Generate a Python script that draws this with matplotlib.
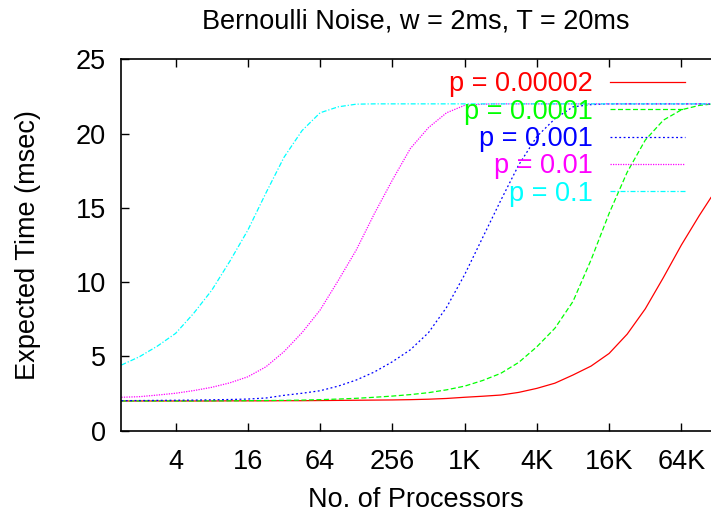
import matplotlib
matplotlib.use("Agg")
import matplotlib.pyplot as plt
from matplotlib.ticker import FixedLocator, FixedFormatter, NullLocator

plt.rcParams['font.family'] = ['Liberation Sans', 'DejaVu Sans']

# x positions as exponents of 2 (number of processors = 2**k)
k_vals = [0.5, 1, 1.5, 2, 2.5, 3, 3.5, 4, 4.5, 5, 5.5, 6, 6.5, 7, 7.5, 8, 8.5, 9, 9.5,
          10, 10.5, 11, 11.5, 12, 12.5, 13, 13.5, 14, 14.5, 15, 15.5, 16, 16.5, 16.82]
processors = [2 ** k for k in k_vals]

p_00002 = [2.0, 2.0, 2.0, 2.0, 2.0, 2.0, 2.01, 2.01, 2.01, 2.02, 2.02, 2.03, 2.04, 2.05, 2.06, 2.07, 2.09,
           2.12, 2.17, 2.25, 2.32, 2.4, 2.58, 2.85, 3.2, 3.75, 4.35, 5.2, 6.5, 8.2, 10.3, 12.5, 14.5, 15.7]
p_0001 = [2.0, 2.0, 2.0, 2.0, 2.0, 2.01, 2.01, 2.02, 2.03, 2.04, 2.06, 2.09, 2.13, 2.18, 2.25, 2.33, 2.43,
          2.56, 2.75, 3.0, 3.38, 3.86, 4.6, 5.65, 6.9, 8.7, 11.5, 14.63, 17.4, 19.56, 20.9, 21.6, 21.9, 21.98]
p_001 = [2.02, 2.03, 2.04, 2.05, 2.06, 2.08, 2.1, 2.13, 2.2, 2.38, 2.52, 2.69, 3.0, 3.41, 3.95, 4.64, 5.45,
         6.6, 8.3, 10.5, 13.0, 15.5, 17.9, 19.8, 21.0, 21.8, 21.95, 22.0, 22.0, 22.0, 22.0, 22.0, 22.0, 22.0]
p_01 = [2.25, 2.29, 2.4, 2.52, 2.7, 2.92, 3.22, 3.63, 4.3, 5.32, 6.6, 8.12, 10.1, 12.16, 14.6, 16.87, 19.0,
        20.4, 21.4, 21.9, 21.98, 22.0, 22.0, 22.0, 22.0, 22.0, 22.0, 22.0, 22.0, 22.0, 22.0, 22.0, 22.0, 22.0]
p_1 = [4.42, 4.98, 5.7, 6.55, 7.9, 9.45, 11.4, 13.5, 16.0, 18.4, 20.2, 21.4, 21.8, 21.98, 22.0, 22.0, 22.0,
       22.0, 22.0, 22.0, 22.0, 22.0, 22.0, 22.0, 22.0, 22.0, 22.0, 22.0, 22.0, 22.0, 22.0, 22.0, 22.0, 22.0]

series = [
    ("p = 0.00002", p_00002, "#ff0000", "-"),
    ("p = 0.0001", p_0001, "#00ff00", (0, (4, 2))),
    ("p = 0.001", p_001, "#0000ff", (0, (1.5, 2))),
    ("p = 0.01", p_01, "#ff00ff", (0, (1, 1))),
    ("p = 0.1", p_1, "#00ffff", (0, (4, 1.5, 1, 1.5))),
]

xtick_vals = [4, 16, 64, 256, 1024, 4096, 16384, 65536]
xtick_labels = ["4", "16", "64", "256", "1K", "4K", "16K", "64K"]
yticks = [0, 5, 10, 15, 20, 25]

FS = 19.5
fig = plt.figure(figsize=(7.11, 5.16), dpi=100)
W, H = 711, 516
left, right, top, bottom = 121.4, 711, 59.3, 430.7
ax = fig.add_axes([left / W, 1 - bottom / H, (right - left) / W, (bottom - top) / H])

for label, vals, color, ls in series:
    ax.plot(processors, vals, color=color, linestyle=ls, linewidth=0.9, label=label)

ax.set_xscale('log', base=2)
ax.set_xlim(2 ** 0.5, 2 ** 16.82)
ax.set_ylim(0, 25)
ax.xaxis.set_major_locator(FixedLocator(xtick_vals))
ax.xaxis.set_major_formatter(FixedFormatter(xtick_labels))
ax.xaxis.set_minor_locator(NullLocator())
ax.set_yticks(yticks)
ax.tick_params(axis='both', which='major', direction='in', length=6, width=1,
               labelsize=FS, top=True, right=False)
ax.tick_params(axis='x', pad=13)
ax.tick_params(axis='y', pad=11)
ax.spines['right'].set_visible(False)
for s in ['left', 'bottom', 'top']:
    ax.spines[s].set_linewidth(1.2)

ax.set_xlabel("No. of Processors", fontsize=FS, labelpad=9)
ax.set_ylabel("Expected Time (msec)", fontsize=FS, labelpad=25)
ax.set_title("Bernoulli Noise, w = 2ms, T = 20ms", fontsize=FS, pad=22)

leg = ax.legend(loc='upper right', bbox_to_anchor=(0.9785, 1.004), frameon=False,
                fontsize=FS, markerfirst=False, handlelength=2.75, handletextpad=0.65,
                labelspacing=0.05, borderaxespad=0.1)
for text, (_, _, color, _) in zip(leg.get_texts(), series):
    text.set_color(color)
    text.set_ha('right')

fig.savefig("out.png", dpi=100)
